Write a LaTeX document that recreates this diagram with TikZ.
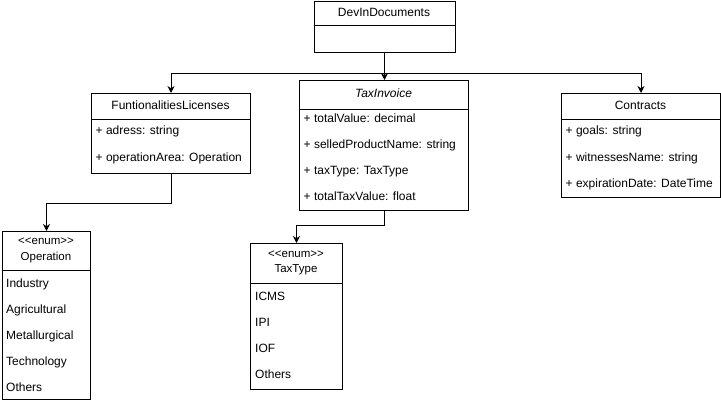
\documentclass[tikz,border=0pt]{standalone}
\usepackage{fontspec}
\setmainfont{Liberation Sans}
\usetikzlibrary{arrows.meta}
\begin{document}
\begin{tikzpicture}[x=1pt,y=-1pt,
  every node/.style={font=\fontsize{12}{14}\selectfont, inner sep=0pt},
  classbox/.style={draw=black, line width=1pt, fill=white, rectangle, anchor=north west, inner sep=0pt},
  divider/.style={draw=black, line width=1pt},
  title/.style={anchor=center, align=center},
  member/.style={anchor=west, text height=8.6pt, text depth=2.6pt},
  conn/.style={draw=black, line width=1pt, -{Stealth[length=7pt,width=7pt]}}
]
\useasboundingbox (0,0) rectangle (721,404);

% DevInDocuments
\node[classbox, minimum width=141pt, minimum height=51pt] (dev) at (313.5,1.5) {};
\draw[divider] (313.5,26) -- (454.5,26);
\node[title, text height=8.6pt, text depth=2.6pt] (devT) at (384,14) {DevInDocuments};

% FuntionalitiesLicenses
\node[classbox, minimum width=159pt, minimum height=80pt] (lic) at (91,93) {};
\draw[divider] (91,120) -- (250,120);
\node[title, text height=8.6pt, text depth=2.6pt] (licT) at (170.5,106.5) {FuntionalitiesLicenses};
\node[member] (lic1) at (95.5,132) {+ adress: string};
\node[member] (lic2) at (95.5,158) {+ operationArea: Operation};

% TaxInvoice
\node[classbox, minimum width=169pt, minimum height=130pt] (tax) at (299,80) {};
\draw[divider] (299,110) -- (468,110);
\node[title, text height=8.6pt, text depth=2.6pt] (taxT) at (383.5,94.5) {\itshape TaxInvoice};
\node[member] (tax1) at (303.5,119.5) {+ totalValue: decimal};
\node[member] (tax2) at (303.5,145.5) {+ selledProductName: string};
\node[member] (tax3) at (303.5,171.5) {+ taxType: TaxType};
\node[member] (tax4) at (303.5,197.5) {+ totalTaxValue: float};

% Contracts
\node[classbox, minimum width=159pt, minimum height=104pt] (con) at (561,93) {};
\draw[divider] (561,120) -- (720,120);
\node[title, text height=8.6pt, text depth=2.6pt] (conT) at (640.5,106.5) {Contracts};
\node[member] (con1) at (565.5,132) {+ goals: string};
\node[member] (con2) at (565.5,158) {+ witnessesName: string};
\node[member] (con3) at (565.5,184) {+ expirationDate: DateTime};

% Operation enum
\node[classbox, minimum width=88pt, minimum height=168pt] (op) at (2,231) {};
\draw[divider] (2,270) -- (90,270);
\node[title, font=\fontsize{11.5}{15.5}\selectfont] (opT) at (46,250.5) {{<}{<}enum{>}{>}\\Operation};
\node[member] (op1) at (6,284) {Industry};
\node[member] (op2) at (6,310) {Agricultural};
\node[member] (op3) at (6,336) {Metallurgical};
\node[member] (op4) at (6,362) {Technology};
\node[member] (op5) at (6,388) {Others};

% TaxType enum
\node[classbox, minimum width=92pt, minimum height=146pt] (tt) at (250,243) {};
\draw[divider] (250,283) -- (342,283);
\node[title, font=\fontsize{11.5}{15.5}\selectfont] (ttT) at (296,263) {{<}{<}enum{>}{>}\\TaxType};
\node[member] (tt1) at (255,297.5) {ICMS};
\node[member] (tt2) at (255,323.5) {IPI};
\node[member] (tt3) at (255,349.5) {IOF};
\node[member] (tt4) at (255,375.5) {Others};

% Connectors
\draw[conn] (dev.south) -- (dev.south |- tax.north);
\draw[conn] (dev.south) -- ++(0,20) -| (lic.north);
\draw[conn] (dev.south) -- ++(0,20) -| (con.north);
\draw[conn] (lic.south) -- ++(0,29) -| (op.north);
\draw[conn] (tax.south) -- ++(0,14) -| (tt.north);
\end{tikzpicture}
\end{document}
